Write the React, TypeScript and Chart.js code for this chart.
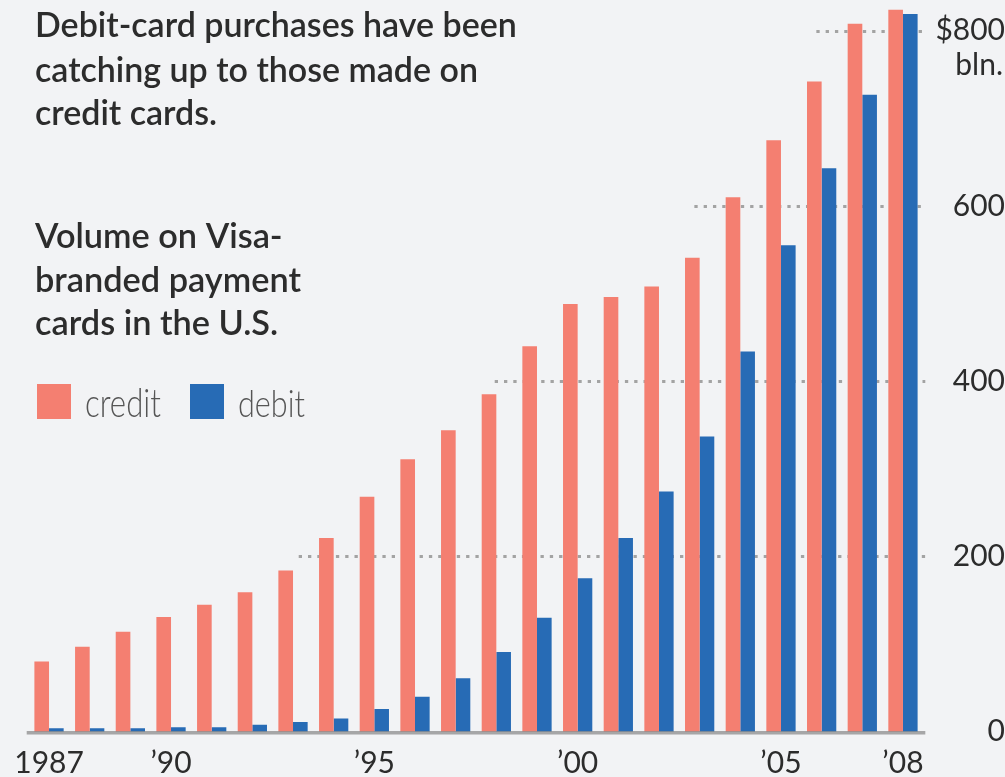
import React, { useEffect, useRef } from "react";
import { Chart, registerables } from "chart.js";

Chart.register(...registerables);

// ---------- data ----------
const years = [
  "1987", "1988", "1989", "1990", "1991", "1992", "1993", "1994", "1995", "1996", "1997",
  "1998", "1999", "2000", "2001", "2002", "2003", "2004", "2005", "2006", "2007", "2008",
];
const xTickLabels = [
  "1987", "", "", "\u201990", "", "", "", "", "\u201995", "", "", "", "", "\u201900", "", "", "", "", "\u201905", "", "", "\u201908",
];
const creditVolume = [80, 97, 114, 131, 145, 159, 184, 221, 268, 311, 344, 385, 440, 488, 496, 508, 541, 610, 675, 742, 808, 824];
const debitVolume = [4, 4, 4, 5, 5, 8, 11, 15, 26, 40, 61, 91, 130, 175, 221, 274, 337, 434, 555, 643, 727, 819];
const seriesNames = ["credit", "debit"];
const yTickValues = [0, 200, 400, 600, 800];
const yTickLabels = ["0", "200", "400", "600", "$800"];
const yUnitLabel = "bln.";
const titleLines = ["Debit-card purchases have been", "catching up to those made on", "credit cards."];
const subtitleLines = ["Volume on Visa-", "branded payment", "cards in the U.S."];

// ---------- style / layout ----------
const W = 1005;
const H = 777;
const BG = "#f2f3f5";
const CREDIT = "#f47f71";
const DEBIT = "#276bb5";
const TEXT = "#2c2c2c";
const LEGEND_TEXT = "#555555";
const FONT = "Lato";
const TICK_FONT = "Lato";
const TICK_SIZE = 30;
const PLOT_LEFT = 28.7;
const PLOT_RIGHT = 923.3;
const PLOT_BOTTOM = 731.7;
const LABEL_RIGHT = 1003;
const Y_MAX = 835;
// where each dotted gridline starts, as a fractional category index
const GRID_START = [NaN, 6.14, 10.96, 15.87, 18.87];

function fitLines(
  ctx: CanvasRenderingContext2D,
  lines: string[],
  weight: string,
  x: number,
  baselines: number[],
  refLine: number,
  targetWidth: number,
  targetHeight: number,
  heightChar: string,
  color: string
) {
  ctx.textAlign = "left";
  ctx.textBaseline = "alphabetic";
  ctx.font = `${weight} 100px ${FONT}`;
  const w100 = ctx.measureText(lines[refLine]).width;
  const size = (100 * targetWidth) / w100;
  ctx.font = `${weight} ${size}px ${FONT}`;
  const h = ctx.measureText(heightChar).actualBoundingBoxAscent || size * 0.72;
  const sy = targetHeight / h;
  ctx.fillStyle = color;
  lines.forEach((t, i) => {
    ctx.save();
    ctx.translate(x, baselines[i]);
    ctx.scale(1, sy);
    ctx.fillText(t, 0, 0);
    ctx.restore();
  });
}

export default function App() {
  const ref = useRef<HTMLCanvasElement>(null);

  useEffect(() => {
    const canvas = ref.current;
    if (!canvas) return;

    const m = document.createElement("canvas").getContext("2d")!;
    m.font = `${TICK_SIZE}px ${TICK_FONT}`;
    const widest = Math.max(...yTickLabels.map((t) => m.measureText(t).width));
    const yPad = Math.max(0, LABEL_RIGHT - PLOT_RIGHT - widest);

    const bgPlugin = {
      id: "bg",
      beforeDraw(chart: any) {
        const c = chart.ctx;
        c.save();
        c.fillStyle = BG;
        c.fillRect(0, 0, chart.width, chart.height);
        c.restore();
      },
    };

    const gridPlugin = {
      id: "partialGrid",
      beforeDatasetsDraw(chart: any) {
        const c = chart.ctx;
        const xs = chart.scales.x;
        const ys = chart.scales.y;
        c.save();
        c.strokeStyle = "#a3a3a3";
        c.lineWidth = 3;
        c.setLineDash([3.3, 6]);
        yTickValues.forEach((v, i) => {
          if (!isFinite(GRID_START[i])) return;
          const y = Math.round(ys.getPixelForValue(v)) + 0.5;
          const x0 = xs.getPixelForValue(GRID_START[i]);
          c.beginPath();
          c.moveTo(x0, y);
          c.lineTo(chart.chartArea.right + 2, y);
          c.stroke();
        });
        c.restore();
      },
    };

    const overlayPlugin = {
      id: "overlay",
      afterDatasetsDraw(chart: any) {
        const c = chart.ctx;
        const area = chart.chartArea;
        c.save();
        c.strokeStyle = "rgba(115,115,115,0.6)";
        c.lineWidth = 3.5;
        c.beginPath();
        c.moveTo(area.left - 2, area.bottom + 1);
        c.lineTo(area.right + 2, area.bottom + 1);
        c.stroke();
        c.restore();
      },
      afterDraw(chart: any) {
        const c = chart.ctx;
        const ys = chart.scales.y;
        c.save();
        // unit label under the top tick
        c.font = `${TICK_SIZE}px ${TICK_FONT}`;
        c.fillStyle = TEXT;
        c.textAlign = "right";
        c.textBaseline = "middle";
        c.fillText(yUnitLabel, LABEL_RIGHT, ys.getPixelForValue(yTickValues[yTickValues.length - 1]) + 35);

        // headline and description
        fitLines(c, titleLines, "600", 35, [37, 81.7, 125], 0, 482, 25, "D", TEXT);
        fitLines(c, subtitleLines, "600", 35, [248.3, 291.7, 335], 1, 266, 26, "b", TEXT);

        // legend
        const ds = chart.data.datasets;
        const boxX = [37, 190];
        const textX = [85, 238];
        ds.forEach((d: any, i: number) => {
          c.fillStyle = d.backgroundColor;
          c.fillRect(boxX[i], 384, 34, 35);
        });
        ds.forEach((d: any, i: number) => {
          fitLines(c, [d.label], "300", textX[i], [417], 0, i === 0 ? 76 : 67, 28.4, "d", LEGEND_TEXT);
        });
        c.restore();
      },
    };

    const chart = new Chart(canvas, {
      type: "bar",
      data: {
        labels: years,
        datasets: [
          {
            label: seriesNames[0],
            data: creditVolume,
            backgroundColor: CREDIT,
            borderWidth: 0,
            barPercentage: 1,
            categoryPercentage: 0.72,
          },
          {
            label: seriesNames[1],
            data: debitVolume,
            backgroundColor: DEBIT,
            borderWidth: 0,
            barPercentage: 1,
            categoryPercentage: 0.72,
          },
        ],
      },
      options: {
        responsive: false,
        animation: false,
        devicePixelRatio: 1,
        layout: { padding: { left: PLOT_LEFT, right: 0, top: 0, bottom: 0 } },
        plugins: {
          legend: { display: false },
          tooltip: { enabled: false },
          title: { display: false },
        },
        scales: {
          x: {
            type: "category",
            offset: true,
            grid: { display: false, drawTicks: false },
            border: { display: false },
            ticks: {
              autoSkip: false,
              maxRotation: 0,
              minRotation: 0,
              padding: 14,
              color: TEXT,
              font: { family: TICK_FONT, size: TICK_SIZE },
              callback: (_v: any, i: number) => xTickLabels[i],
            },
            afterFit: (s: any) => {
              s.height = H - PLOT_BOTTOM;
              s.paddingLeft = 0;
              s.paddingRight = 0;
            },
          },
          y: {
            position: "right",
            min: 0,
            max: Y_MAX,
            grid: { display: false, drawTicks: false },
            border: { display: false },
            afterBuildTicks: (s: any) => {
              s.ticks = yTickValues.map((v) => ({ value: v }));
            },
            ticks: {
              crossAlign: "far",
              padding: yPad,
              color: TEXT,
              font: { family: TICK_FONT, size: TICK_SIZE },
              callback: (v: any) => yTickLabels[yTickValues.indexOf(Number(v))],
            },
            afterFit: (s: any) => {
              s.width = W - PLOT_RIGHT;
              s.paddingTop = 0;
              s.paddingBottom = 0;
            },
          },
        },
      },
      plugins: [bgPlugin, gridPlugin, overlayPlugin],
    } as any);

    return () => chart.destroy();
  }, []);

  return (
    <div style={{ position: "absolute", left: 0, top: 0, width: W, height: H, background: BG }}>
      <canvas ref={ref} width={W} height={H} style={{ display: "block", width: W, height: H }} />
    </div>
  );
}
